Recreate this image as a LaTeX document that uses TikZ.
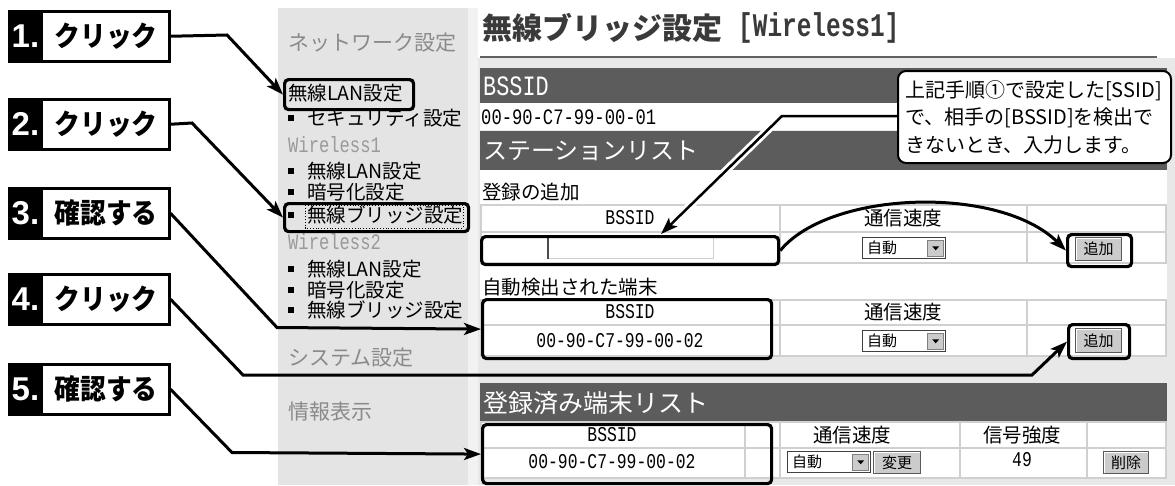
\documentclass[tikz,border=0pt]{standalone}
\usepackage{fontspec}
\usepackage{graphicx}
\usetikzlibrary{arrows.meta}
\newfontfamily\jp{Noto Sans CJK JP}
\newfontfamily\mn{Liberation Mono}
\newfontfamily\lsb{Liberation Sans}
\newcommand{\fs}[1]{\fontsize{#1}{#1}\selectfont}
\newcommand{\mtx}[2]{{\mn\fs{#1}\scalebox{0.78}[1]{#2}}}
\definecolor{menubg}{HTML}{E4E4E4}
\definecolor{gapbg}{HTML}{E8E8E8}
\definecolor{stripc}{HTML}{F2F2F2}
\definecolor{barc}{HTML}{5C5C5C}
\definecolor{gridc}{HTML}{D0D0D0}
\definecolor{mgray}{HTML}{8A8A8A}
\definecolor{wgray}{HTML}{9A9A9A}
\definecolor{btnc}{HTML}{CBCBCB}
\definecolor{titlec}{HTML}{3A3A3A}
\tikzset{
  hl/.style={draw=black, line width=3.2pt, rounded corners=4pt, inner sep=0pt, anchor=north west},
  conn/.style={line width=3pt, line join=miter, -{Stealth[length=17pt,width=12pt,inset=4pt]}},
  lbl/.style={draw=black, line width=2.5pt, fill=white, minimum width=160pt, minimum height=50pt, inner sep=0pt, anchor=north west},
  lnum/.style={text=white, font=\lsb\bfseries\fs{33}, inner sep=0pt},
  ltxt/.style={font=\jp\bfseries\fs{28}, inner sep=0pt},
  mhead/.style={font=\jp\fs{21}, text=mgray, inner sep=0pt, anchor=west},
  mitem/.style={font=\jp\fs{19.5}, text=black, inner sep=0pt, anchor=west},
  mw/.style={text=wgray, inner sep=0pt, anchor=west},
  bul/.style={fill=black, minimum size=6pt, inner sep=0pt},
  jtx/.style={font=\jp\fs{19.5}, inner sep=0pt},
  wtx/.style={text=white, inner sep=0pt, anchor=west},
  ddbox/.style={draw=black!75, line width=1.2pt, fill=white, minimum width=83pt, minimum height=21pt, anchor=north west, inner sep=0pt},
  ddbtn/.style={fill=btnc, draw=black!50, line width=0.8pt, minimum width=16pt, minimum height=16pt, inner sep=0pt},
  btnbox/.style={fill=btnc, draw=black!65, line width=1.2pt, anchor=north west, inner sep=0pt, font=\jp\fs{15}},
  gridln/.style={draw=gridc, line width=1.2pt}
}
\newcommand{\menuitem}[3]{%
  \node[bul] (#1b) at (291,#2) {};
  \node[mitem] (#1) at (307,#2) {#3};}
\newcommand{\dropdown}[3]{%
  \node[ddbox] (#1) at (#2,#3) {};
  \node[font=\jp\fs{15}, inner sep=0pt, anchor=west] (#1t) at ([xshift=5pt]#1.west) {自動};
  \node[ddbtn] (#1b) at ([xshift=-10.5pt]#1.east) {};
  \fill[black] ([xshift=-3.5pt,yshift=1.8pt]#1b.center) -- ++(7pt,0pt) -- ++(-3.5pt,-4pt) -- cycle;}
\newcommand{\button}[6]{%
  \node[btnbox, minimum width=#4pt, minimum height=#5pt] (#1) at (#2,#3) {#6};
  \draw[white, line width=1.2pt] ([shift={(1.6pt,1.6pt)}]#1.south west) -- ([shift={(1.6pt,-1.6pt)}]#1.north west) -- ([shift={(-1.6pt,-1.6pt)}]#1.north east);}
\begin{document}
\begin{tikzpicture}[x=1pt,y=-1pt]
\useasboundingbox (0,0) rectangle (1175,485);
\fill[white] (0,0) rectangle (1175,485);
% ---------- menu panel ----------
\fill[menubg] (278,8) rectangle (468,485);
\fill[stripc] (468,8) rectangle (478,485);
\node[mhead] (mnet) at (288,43) {ネットワーク設定};
\node[mitem] (mlan) at (288,93) {無線LAN設定};
\menuitem{msec}{118}{セキュリティ設定}
\node[mw] (mw1) at (288,145) {\mtx{22}{Wireless1}};
\menuitem{mlan1}{171}{無線LAN設定}
\menuitem{menc1}{192}{暗号化設定}
\menuitem{mbr1}{215}{無線ブリッジ設定}
\draw[dotted, line width=0.8pt] (305,205) rectangle (463,228);
\node[mw] (mw2) at (288,242) {\mtx{22}{Wireless2}};
\menuitem{mlan2}{269}{無線LAN設定}
\menuitem{menc2}{290}{暗号化設定}
\menuitem{mbr2}{310}{無線ブリッジ設定}
\node[mhead] (msys) at (288,358) {システム設定};
\node[mhead] (minfo) at (288,412) {情報表示};
% ---------- right panel ----------
\fill[gapbg] (478,58) rectangle (1175,485);
\draw[titlec!80, line width=2.5pt] (480,57) -- (1157,57);
\node[font=\jp\bfseries\fs{30}, text=titlec, anchor=west, inner sep=0pt] (title) at (482,28) {無線ブリッジ設定};
\node[text=titlec, anchor=west, inner sep=0pt] (titlew) at (738,28) {{\mn\bfseries\fs{33}\scalebox{0.74}[1]{[Wireless1]}}};
% BSSID bar
\fill[barc] (480,68) rectangle (1167,103);
\fill[white] (480,103) rectangle (1167,130);
\fill[barc] (480,131) rectangle (1167,170);
\node[wtx] (bar1t) at (483,86) {\mtx{28}{BSSID}};
\node[inner sep=0pt, anchor=west] (mac1) at (481,117) {\mtx{22}{00-90-C7-99-00-01}};
\node[wtx, font=\jp\fs{24}] (bar2t) at (483,151) {ステーションリスト};
% station list white area
\fill[white] (480,170) rectangle (1167,357);
\node[jtx, anchor=west] (addt) at (482,192) {登録の追加};
% table 1
\draw[gridln] (480,205) -- (1167,205) (480,232) -- (1167,232) (480,263) -- (1167,263);
\draw[gridln] (780,205) -- (780,263) (1027,205) -- (1027,263) (1166,205) -- (1166,263) (481,205) -- (481,263);
\node[inner sep=0pt] (t1h1) at (630,218) {\mtx{21}{BSSID}};
\node[jtx] (t1h2) at (903,218) {通信速度};
\node[fill=white, draw=gridc, line width=1pt, minimum width=165pt, minimum height=21pt, anchor=north west, inner sep=0pt] (infield) at (548,237) {};
\draw[black!70, line width=1.5pt] (infield.south west) -- (infield.north west) -- (infield.north east);
\dropdown{dd1}{862}{237}
\button{add1}{1075}{237}{46}{23}{追加}
\node[jtx, anchor=west] (autot) at (482,287) {自動検出された端末};
% table 2
\draw[gridln] (480,300) -- (1167,300) (480,325) -- (1167,325) (480,356) -- (1167,356);
\draw[gridln] (780,300) -- (780,356) (1027,300) -- (1027,356) (1166,300) -- (1166,356) (481,300) -- (481,356);
\node[inner sep=0pt] (t2h1) at (630,312) {\mtx{21}{BSSID}};
\node[jtx] (t2h2) at (903,312) {通信速度};
\node[inner sep=0pt] (mac2) at (620,341) {\mtx{21}{00-90-C7-99-00-02}};
\dropdown{dd2}{862}{330}
\button{add2}{1075}{328}{46}{24}{追加}
% registered list
\fill[barc] (480,383) rectangle (1167,422);
\node[wtx, font=\jp\fs{25}] (bar3t) at (483,403) {登録済み端末リスト};
\fill[white] (480,422) rectangle (1167,478);
\draw[gridln] (480,422) -- (1167,422) (480,448) -- (1167,448) (480,478) -- (1167,478);
\draw[gridln] (745,422) -- (745,478) (780,422) -- (780,478) (960,422) -- (960,478) (1087,422) -- (1087,478) (1166,422) -- (1166,478) (481,422) -- (481,478);
\node[inner sep=0pt] (t3h1) at (612,435) {\mtx{21}{BSSID}};
\node[jtx] (t3h2) at (852,435) {通信速度};
\node[jtx] (t3h3) at (1022,435) {信号強度};
\node[inner sep=0pt] (mac3) at (612,462) {\mtx{21}{00-90-C7-99-00-02}};
\dropdown{dd3}{787}{451}
\button{chg}{873}{451}{47}{22}{変更}
\node[inner sep=0pt] (sig) at (1022,460) {\mtx{21}{49}};
\button{del}{1103}{451}{45}{22}{削除}
% ---------- highlights ----------
\node[hl, minimum width=129pt, minimum height=30pt] (Hm1) at (283,78) {};
\node[hl, minimum width=184pt, minimum height=28pt] (Hm2) at (283,202) {};
\node[hl, minimum width=297pt, minimum height=28pt] (Hin) at (480,235) {};
\node[hl, minimum width=64pt, minimum height=32pt] (Ha1) at (1066,233) {};
\node[hl, minimum width=289pt, minimum height=59pt] (Ht2) at (481,298) {};
\node[hl, minimum width=61pt, minimum height=34pt] (Ha2) at (1067,323) {};
\node[hl, minimum width=289pt, minimum height=59pt] (Ht3) at (481,423) {};
% ---------- callout ----------
\coordinate (cb) at (782,116);
\coordinate (ctip) at (661,234);
\coordinate (chalo) at (672,223);
\draw[white, line width=8pt] (897,116) -- (cb) -- (chalo);
\draw[conn, line width=2.5pt] (897,116) -- (cb) -- (ctip);
\node[draw=black, line width=2pt, fill=white, rounded corners=8pt, anchor=north west, minimum width=273pt, minimum height=92pt, inner sep=0pt] (callout) at (897,70) {};
\node[font=\jp\fontsize{20}{27.5}\selectfont, align=left, anchor=west, inner sep=0pt] (ctext) at (905,117) {上記手順①で設定した[SSID]\\で、相手の[BSSID]を検出で\\きないとき、入力します。};
% curved arrow
\draw[conn] (Hin.east) .. controls (830,190) and (1000,185) .. (Ha1.west);
% ---------- step labels ----------
\node[lbl] (L1) at (8,10) {};
\node[lbl] (L2) at (8,98) {};
\node[lbl] (L3) at (8,187) {};
\node[lbl] (L4) at (8,273) {};
\node[lbl] (L5) at (8,363) {};
\foreach \n/\t/\s in {1/クリック/1., 2/クリック/2., 3/確認する/3., 4/クリック/4., 5/確認する/5.}{
  \fill[black] (L\n.north west) rectangle ([xshift=35pt]L\n.south west);
  \node[lnum] (L\n n) at ([xshift=17.5pt]L\n.west) {\s};
  \node[ltxt] (L\n t) at ([xshift=98pt]L\n.west) {\scalebox{0.92}[1]{\t}};
}
% ---------- connectors ----------
\coordinate (b1) at (227,35);
\draw[conn] (L1.east) -- (b1) -- (Hm1.west);
\coordinate (b2) at (192,123);
\draw[conn] (L2.east) -- (b2) -- (Hm2.west);
\coordinate (b3) at (277,327.5);
\draw[conn] (L3.east) -- (b3) -- (Ht2.west);
\coordinate (b4a) at (243,375);
\coordinate (b4b) at (1032,375);
\draw[conn] (L4.east) -- (b4a) -- (b4b) -- (Ha2.west);
\coordinate (b5) at (232,452.5);
\draw[conn] (L5.east) -- (b5) -- (Ht3.west);
\end{tikzpicture}
\end{document}
